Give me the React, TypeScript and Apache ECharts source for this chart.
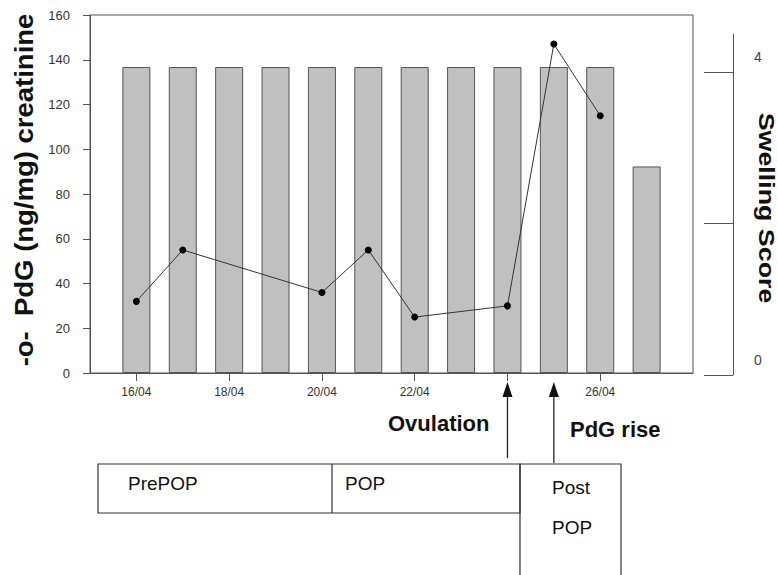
import React, { useEffect, useRef } from "react";
import * as echarts from "echarts";

// ---- data ----
const barDays = [16, 17, 18, 19, 20, 21, 22, 23, 24, 25, 26, 27];
const swellingScore = [4, 4, 4, 4, 4, 4, 4, 4, 4, 4, 4, 2.7];
const pdgDays = [16, 17, 20, 21, 22, 24, 25, 26];
const pdgValues = [32, 55, 36, 55, 25, 30, 147, 115];
const xTickDays = [16, 18, 20, 22, 24, 26];
const xLabelDays = [16, 18, 20, 22, 26];
const rightTicks = [0, 2, 4];
const rightLabels = [0, 4];
const ovulationDay = 24;
const pdgRiseDay = 25;
const phaseRow = ["PrePOP", "POP"];
const postPhase = ["Post", "POP"];

const FONT = "'Liberation Sans', Arial, sans-serif";
const AX = "#555";

export default function App() {
  const ref = useRef<HTMLDivElement>(null);
  useEffect(() => {
    document.body.style.margin = "0";
    const chart = echarts.init(ref.current!, undefined, { renderer: "svg" });
    const option: any = {
      animation: false,
      backgroundColor: "#fff",
      textStyle: { fontFamily: FONT },
      grid: [
        { left: 90, right: 85, top: 15, bottom: 202, show: true, borderColor: AX, borderWidth: 1, backgroundColor: "transparent" },
        { left: 733, right: 20, top: 34, bottom: 200, show: false },
      ],
      xAxis: [
        {
          type: "value", gridIndex: 0, min: 15, max: 28, interval: 1,
          axisLine: { show: true, lineStyle: { color: AX, width: 1 } },
          axisTick: { show: true, customValues: xTickDays, length: 8, lineStyle: { color: AX } },
          axisLabel: {
            customValues: xLabelDays, margin: 13, fontSize: 12, color: "#333", fontFamily: FONT,
            formatter: (v: number) => `${v}/04`,
          },
          splitLine: { show: false },
        },
        { type: "value", gridIndex: 1, min: 0, max: 1, show: false },
      ],
      yAxis: [
        {
          type: "value", gridIndex: 0, min: 0, max: 160, interval: 20,
          axisLine: { show: true, lineStyle: { color: AX, width: 1 } },
          axisTick: { show: true, length: 7, lineStyle: { color: AX } },
          axisLabel: { margin: 20, fontSize: 13, color: "#333", fontFamily: FONT },
          splitLine: { show: false },
        },
        { type: "value", gridIndex: 0, min: 0, max: 4.68, show: false },
        {
          type: "value", gridIndex: 1, position: "left", min: 0, max: 4.5,
          axisLine: { show: true, lineStyle: { color: AX, width: 1 } },
          axisTick: { show: true, inside: false, length: 29, customValues: rightTicks, lineStyle: { color: AX } },
          axisLabel: {
            inside: true, customValues: rightLabels, margin: 21, fontSize: 14, color: "#444", fontFamily: FONT,
            verticalAlign: "bottom", padding: [0, 0, 8, 0],
          },
          splitLine: { show: false },
        },
      ],
      series: [
        {
          type: "bar", xAxisIndex: 0, yAxisIndex: 1, barWidth: 28,
          data: barDays.map((d, i) => [d, swellingScore[i]]),
          itemStyle: { color: "#c0c0c0", borderColor: "#555", borderWidth: 1 },
          z: 2,
        },
        {
          type: "line", xAxisIndex: 0, yAxisIndex: 0,
          data: pdgDays.map((d, i) => [d, pdgValues[i]]),
          symbol: "circle", symbolSize: 7,
          lineStyle: { color: "#333", width: 1 },
          itemStyle: { color: "#000" },
          z: 3,
        },
      ],
    };
    chart.setOption(option);

    const xOv = chart.convertToPixel({ xAxisIndex: 0 }, ovulationDay) as number;
    const xPr = chart.convertToPixel({ xAxisIndex: 0 }, pdgRiseDay) as number;
    const arrow = (x: number, y2: number) => [
      { type: "line", shape: { x1: x, y1: 392, x2: x, y2 }, style: { stroke: "#222", lineWidth: 1.3 } },
      { type: "polygon", shape: { points: [[x - 5, 397], [x + 5, 397], [x, 382]] }, style: { fill: "#111" } },
    ];
    const boldTxt = (text: string, x: number, y: number, size: number, rot = 0, align = "left", sx = 1) => ({
      type: "text", x, y, rotation: rot, scaleX: sx,
      style: { text, font: `bold ${size}px ${FONT}`, fill: "#111", align, verticalAlign: "middle" },
    });
    const txt = (text: string, x: number, y: number) => ({
      type: "text", x, y,
      style: { text, font: `19px ${FONT}`, fill: "#111", align: "left", verticalAlign: "middle" },
    });
    const stroke = { stroke: "#333", lineWidth: 1.2, fill: "none" };
    chart.setOption({
      graphic: [
        boldTxt("-o-  PdG (ng/mg) creatinine", 24, 190, 25, Math.PI / 2, "center", 1.1),
        boldTxt("Swelling Score", 767, 208, 22, -Math.PI / 2, "center", 1.22),
        ...arrow(xOv, 458),
        ...arrow(xPr, 463),
        boldTxt("Ovulation", 388, 423, 22),
        boldTxt("PdG rise", 570, 429, 22),
        { type: "rect", shape: { x: 98, y: 464, width: 422, height: 49 }, style: stroke },
        { type: "line", shape: { x1: 332, y1: 464, x2: 332, y2: 513 }, style: stroke },
        { type: "rect", shape: { x: 520, y: 464, width: 101, height: 130 }, style: stroke },
        txt(phaseRow[0], 128, 483),
        txt(phaseRow[1], 345, 483),
        txt(postPhase[0], 552, 487),
        txt(postPhase[1], 552, 527),
      ],
    });
    return () => chart.dispose();
  }, []);
  return <div ref={ref} style={{ width: 778, height: 575 }} />;
}
